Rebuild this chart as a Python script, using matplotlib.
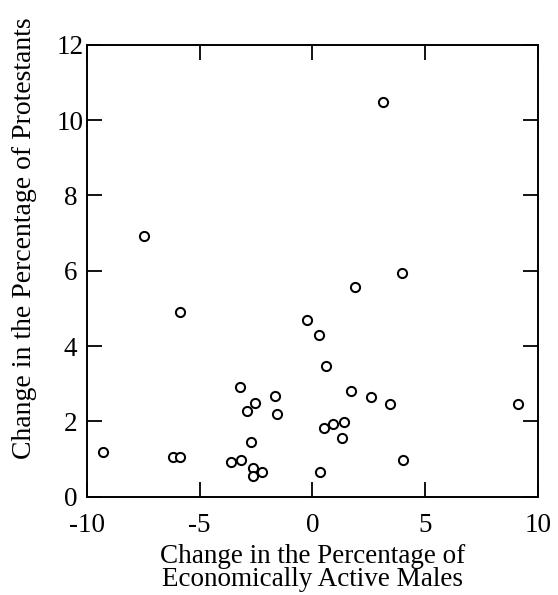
import matplotlib
matplotlib.use("Agg")
import matplotlib.pyplot as plt
from matplotlib.ticker import FixedLocator

x_change_males = [3.97, 1.88, -5.89, -0.24, 0.29, 0.61, -3.21, -1.66, -2.53, -2.92,
                  -1.57, 1.70, 2.59, 3.43, 9.13, 1.40, 0.92, 0.50, 1.30, -2.73,
                  -9.27, -6.19, -5.89, -3.60, -3.15, 4.02, -2.64, -2.22, -2.64, 0.35,
                  3.14, -7.48]
y_change_protestants = [5.93, 5.56, 4.90, 4.69, 4.28, 3.48, 2.92, 2.68, 2.50, 2.27,
                        2.20, 2.81, 2.65, 2.45, 2.45, 1.99, 1.94, 1.82, 1.56, 1.44,
                        1.18, 1.05, 1.05, 0.93, 0.97, 0.97, 0.76, 0.66, 0.55, 0.66,
                        10.47, 6.92]
x_ticks = [-10, -5, 0, 5, 10]
y_ticks = [0, 2, 4, 6, 8, 10, 12]

plt.rcParams['font.family'] = ['Liberation Serif', 'DejaVu Serif']

fig = plt.figure(figsize=(5.58, 5.95), dpi=100)
ax = fig.add_axes([87/558, 1 - 496.7/595, (537.9 - 87)/558, (496.7 - 44.7)/595])

ax.plot(x_change_males, y_change_protestants, linestyle='none', marker='o',
        markersize=6.6, markerfacecolor='white', markeredgecolor='black',
        markeredgewidth=1.45, clip_on=False)

ax.set_xlim(-10, 10)
ax.set_ylim(0, 12)
ax.xaxis.set_major_locator(FixedLocator(x_ticks))
ax.yaxis.set_major_locator(FixedLocator(y_ticks))
ax.set_xticklabels([str(t) for t in x_ticks])
ax.set_yticklabels([str(t) for t in y_ticks])

for s in ax.spines.values():
    s.set_linewidth(1.4)
ax.tick_params(direction='in', length=11, width=1.3, top=True, right=True,
               labelsize=19.5, pad=12)
ax.tick_params(axis='y', pad=12)
for lab in ax.get_yticklabels():
    lab.set_horizontalalignment('center')

ax.set_xlabel("Change in the Percentage of\nEconomically Active Males",
              fontsize=19.5, linespacing=0.92, labelpad=4)
ax.set_ylabel("Change in the Percentage of Protestants", fontsize=20)
ax.yaxis.set_label_coords(-0.11, (496.7 - 238.5) / 452.0)

fig.savefig("out.png", dpi=100)
